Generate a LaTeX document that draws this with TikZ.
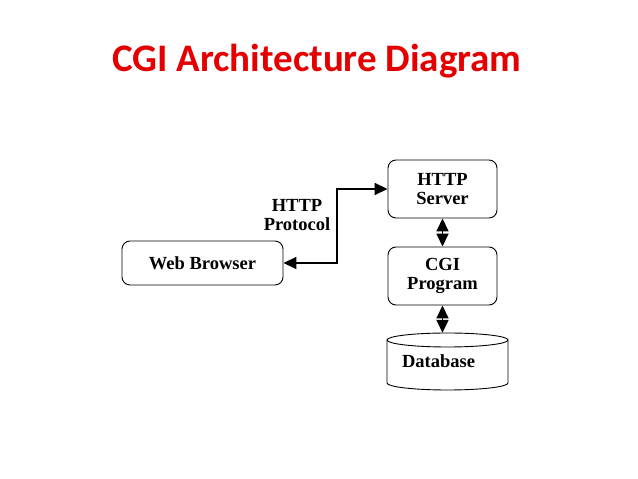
\documentclass[tikz,border=0pt]{standalone}
\usepackage{fontspec}
\setmainfont{Liberation Serif}
\newfontfamily\titlefont{Carlito}
\usetikzlibrary{arrows.meta}
\definecolor{titlered}{RGB}{228,0,0}

\tikzset{
  box/.style={draw, rounded corners=8pt, line width=0.9pt, font=\bfseries\fontsize{18.5}{19}\selectfont, align=center},
  link/.style={line width=1.6pt, {Triangle[length=13pt,width=12pt]}-{Triangle[length=13pt,width=12pt]}}
}

\begin{document}
\begin{tikzpicture}[x=1pt,y=1pt]
\useasboundingbox (0,0) rectangle (638,479);

% Title
\node (title) at (317,418) [text=titlered, font=\titlefont\bfseries\fontsize{39}{39}\selectfont] {CGI Architecture Diagram};

% Boxes
\node (server) at (442.5,290) [box, minimum width=109pt, minimum height=58pt] {HTTP\\Server};
\node (cgi) at (442.5,203) [box, minimum width=109pt, minimum height=58pt] {CGI\\Program};
\node (browser) at (202.5,216) [box, minimum width=161pt, minimum height=44pt] {Web Browser};

% Database cylinder
\node (db) at (447.5,117.5) [minimum width=121pt, minimum height=57pt, font=\bfseries\fontsize{18.5}{19}\selectfont] {\hspace{-18pt}Database};
\draw[line width=0.9pt] (387,139) -- (387,96) arc (180:360:60.5 and 7) -- (508,139);
\draw[line width=0.9pt] (447.5,139) ellipse (60.5 and 7);

% Label
\node (proto) at (297,264) [align=center, font=\bfseries\fontsize{18.5}{19}\selectfont] {HTTP\\Protocol};

% Connectors
\draw[link] (browser.east) -- (337,216) |- (server.west);
\draw[link] (server.south) -- (cgi.north);
\draw[link] (cgi.south) -- (cgi.south |- db.north);

\end{tikzpicture}
\end{document}
